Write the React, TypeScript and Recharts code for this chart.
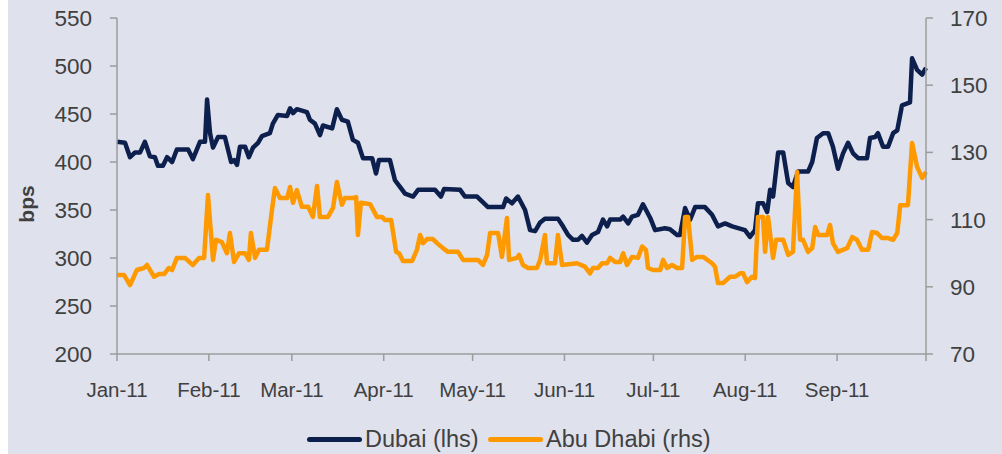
import { Label, Line, LineChart, XAxis, YAxis } from "recharts";

const NAVY = "#0d1f4c";
const ORANGE = "#ff9900";
const BG = "#dfe1ec";
const AXIS = "#9c9c9c";
const TEXT = "#404040";
const FONT = "'Liberation Sans', Arial, sans-serif";

// x = days since 1 Jan 2011
const monthTicks = [0, 31, 59, 90, 120, 151, 181, 212, 243, 273];
const monthLabels = ["Jan-11", "Feb-11", "Mar-11", "Apr-11", "May-11", "Jun-11", "Jul-11", "Aug-11", "Sep-11", ""];
const leftTicks = [200, 250, 300, 350, 400, 450, 500, 550];
const rightTicks = [70, 90, 110, 130, 150, 170];

const dubaiDays = [
  0, 2.7, 4.4, 6.1, 7.8, 9.4, 11.1, 12.8, 13.8, 15.5,
  16.9, 18.6, 20.2, 24.0, 25.6, 28.0, 29.7, 30.4, 31.4, 32.4,
  34.1, 36.4, 38.5, 39.5, 40.5, 41.5, 43.2, 44.5, 45.9, 47.6,
  48.9, 51.6, 52.6, 54.3, 57.4, 58.4, 59.4, 60.7, 64.1, 65.1,
  66.8, 68.5, 69.5, 72.6, 74.2, 75.9, 77.9, 79.6, 81.3, 83.0,
  86.1, 87.4, 88.4, 92.1, 93.8, 95.5, 97.2, 99.9, 101.6, 107.3,
  109.3, 110.4, 115.8, 117.4, 121.5, 125.2, 130.3, 131.3, 133.3, 135.3,
  137.7, 139.4, 141.1, 142.8, 144.4, 148.8, 150.5, 152.2, 153.9, 155.6,
  156.9, 158.6, 160.3, 162.3, 164.0, 165.4, 166.4, 169.8, 170.8, 172.5,
  173.8, 175.8, 177.5, 179.9, 181.6, 184.9, 186.6, 189.0, 190.0, 191.7,
  193.4, 195.1, 198.4, 200.8, 202.8, 205.2, 207.6, 211.9, 213.6, 215.3,
  216.3, 218.0, 219.4, 220.4, 221.4, 223.1, 224.8, 226.5, 228.1, 229.8,
  233.2, 234.6, 236.2, 238.3, 240.0, 241.6, 243.3, 245.0, 246.7, 248.4,
  250.1, 253.1, 254.1, 255.8, 256.8, 258.5, 260.2, 261.9, 263.3, 264.9,
  267.6, 268.3, 270.0, 271.7, 273.0,
];
const dubaiBps = [
  421, 420, 405, 410, 410, 421, 406, 405, 396, 396,
  405, 400, 413, 413, 403, 421, 421, 465, 430, 415,
  426, 426, 400, 402, 397, 416, 416, 405, 415, 420,
  427, 430, 440, 449, 448, 456, 451, 455, 452, 444,
  440, 428, 438, 435, 455, 444, 442, 423, 420, 404,
  404, 388, 402, 402, 381, 374, 367, 364, 371, 371,
  364, 372, 371, 364, 364, 353, 353, 362, 357, 364,
  350, 329, 328, 337, 341, 341, 333, 324, 319, 319,
  323, 316, 324, 327, 340, 333, 340, 340, 343, 336,
  343, 345, 356, 342, 329, 331, 330, 324, 324, 352,
  340, 353, 353, 345, 333, 336, 333, 329, 322, 329,
  357, 357, 348, 371, 364, 410, 410, 378, 374, 390,
  390, 400, 425, 430, 430, 416, 393, 409, 420, 409,
  404, 404, 425, 426, 430, 416, 416, 430, 433, 459,
  462, 508, 496, 491, 498,
];

const abuDhabiDays = [
  0, 2.4, 4.4, 6.7, 9.1, 10.1, 12.5, 14.2, 15.9, 17.5,
  18.6, 20.2, 22.9, 25.6, 27.7, 29.4, 30.7, 32.4, 33.4, 35.4,
  37.1, 38.1, 39.5, 41.2, 43.2, 44.5, 45.2, 46.6, 47.9, 50.6,
  52.3, 53.3, 55.0, 57.4, 58.4, 59.4, 60.7, 62.4, 64.5, 66.1,
  67.5, 68.5, 71.2, 72.9, 74.2, 75.9, 76.9, 79.6, 80.7, 81.3,
  82.3, 85.4, 87.7, 89.4, 90.4, 92.5, 94.2, 95.2, 96.5, 99.6,
  101.2, 102.3, 103.3, 104.6, 106.6, 108.0, 110.0, 111.7, 115.1, 116.8,
  121.8, 123.5, 124.9, 125.9, 128.6, 129.9, 131.6, 132.3, 135.0, 135.7,
  137.0, 138.7, 141.7, 142.8, 144.4, 145.1, 147.8, 148.8, 150.2, 155.2,
  157.9, 159.6, 160.6, 162.3, 163.7, 165.4, 166.4, 168.1, 169.8, 170.8,
  172.1, 173.8, 175.8, 177.2, 178.5, 179.2, 180.9, 183.3, 184.3, 185.6,
  187.3, 189.0, 190.7, 191.7, 192.7, 194.1, 195.7, 197.8, 200.8, 201.8,
  202.8, 204.5, 206.9, 208.6, 210.3, 211.3, 212.6, 214.3, 215.3, 216.3,
  218.0, 218.7, 219.7, 221.4, 222.4, 224.8, 226.5, 228.1, 229.5, 230.5,
  231.5, 233.2, 234.6, 235.6, 236.6, 239.6, 240.6, 241.6, 243.3, 246.4,
  248.1, 249.7, 251.4, 253.5, 254.8, 256.5, 258.2, 260.2, 261.9, 263.3,
  264.3, 266.9, 268.3, 270.0, 271.7, 273.0,
];
const abuDhabiBps = [
  93.5, 93.5, 90.5, 95, 95.6, 96.5, 93, 93.8, 93.8, 95.6,
  95, 98.6, 98.6, 96.5, 98.6, 98.6, 117.3, 98, 104, 103.3,
  100, 106, 97.4, 100, 100, 98, 106, 98.6, 101, 101,
  112.9, 119.4, 116.4, 116.4, 119.7, 115, 118.8, 113.8, 113.8, 110.8,
  120, 110.8, 110.8, 113.5, 121.2, 114.4, 116.4, 116.4, 116.7, 105.4,
  115, 114.6, 110.8, 110.8, 109.9, 109.9, 100.4, 100, 97.7, 97.7,
  101, 105.4, 103, 104.2, 104.2, 103, 101.5, 100.4, 100.4, 98,
  98, 96.5, 99.5, 106, 106, 98.9, 110.5, 98, 98.6, 99.5,
  96.5, 95.6, 95.6, 98, 105.4, 97, 97, 105.4, 96.5, 97,
  96, 94, 95.6, 95.6, 97, 97, 98.6, 97.4, 97.4, 100,
  96.5, 98.9, 98.6, 102, 101, 95.6, 95, 95, 98, 95.6,
  96.5, 95.6, 95.6, 110.8, 110.8, 98, 98.9, 98.9, 97, 96,
  91.1, 91.1, 93, 93, 94, 94, 91.4, 93, 92.6, 110.8,
  110.8, 100.4, 110.8, 98.6, 104, 104, 99.5, 100.4, 124.2, 104,
  104, 100.4, 101.5, 107.8, 105.4, 105.4, 108.4, 103, 100.4, 101.5,
  104.8, 104, 101, 101, 106.3, 106, 104.5, 104.5, 104, 106,
  114.3, 114.3, 132.8, 125.7, 122.4, 124.2,
];

const dubaiData = dubaiDays.map((day, i) => ({ day, value: dubaiBps[i] }));
const abuDhabiData = abuDhabiDays.map((day, i) => ({ day, value: abuDhabiBps[i] }));

const legendItems = [
  { name: "Dubai (lhs)", color: NAVY, left: 299 },
  { name: "Abu Dhabi (rhs)", color: ORANGE, left: 480 },
];

export default function App() {
  return (
    <div
      style={{
        position: "absolute",
        left: 8,
        top: 0,
        width: 994,
        height: 454,
        background: BG,
        fontFamily: FONT,
      }}
    >
      <LineChart width={994} height={454} margin={{ top: 18, right: 16, left: 29, bottom: 40 }}>
        <XAxis
          dataKey="day"
          type="number"
          domain={[0, 273]}
          ticks={monthTicks}
          tickFormatter={(v: number) => monthLabels[monthTicks.indexOf(v)] ?? ""}
          height={60}
          stroke={AXIS}
          strokeWidth={1.5}
          tickSize={7}
          tickMargin={21}
          tick={{ fill: TEXT, fontSize: 20.5, fontFamily: FONT }}
          interval={0}
        />
        <YAxis
          yAxisId="left"
          orientation="left"
          domain={[200, 550]}
          ticks={leftTicks}
          width={80}
          stroke={AXIS}
          strokeWidth={1.5}
          tickSize={7}
          tickMargin={18}
          tick={{ fill: TEXT, fontSize: 22.5, fontFamily: FONT }}
          interval={0}
        >
          <Label
            content={() => (
              <text
                transform="translate(26,204) rotate(-90)"
                textAnchor="middle"
                fill={TEXT}
                fontSize={21}
                fontWeight="bold"
                fontFamily={FONT}
              >
                bps
              </text>
            )}
          />
        </YAxis>
        <YAxis
          yAxisId="right"
          orientation="right"
          domain={[70, 170]}
          ticks={rightTicks}
          width={60}
          stroke={AXIS}
          strokeWidth={1.5}
          tickSize={7}
          tickMargin={17}
          tick={{ fill: TEXT, fontSize: 22.5, fontFamily: FONT }}
          interval={0}
        />
        <Line
          yAxisId="left"
          data={dubaiData}
          dataKey="value"
          name="Dubai (lhs)"
          type="linear"
          stroke={NAVY}
          strokeWidth={4.5}
          strokeLinejoin="round"
          dot={false}
          activeDot={false}
          isAnimationActive={false}
        />
        <Line
          yAxisId="right"
          data={abuDhabiData}
          dataKey="value"
          name="Abu Dhabi (rhs)"
          type="linear"
          stroke={ORANGE}
          strokeWidth={4.5}
          strokeLinejoin="round"
          dot={false}
          activeDot={false}
          isAnimationActive={false}
        />
      </LineChart>
      {legendItems.map((item) => (
        <div
          key={item.name}
          style={{
            position: "absolute",
            left: item.left,
            top: 428,
            display: "flex",
            alignItems: "center",
            height: 23,
            lineHeight: "23px",
            fontSize: 23.5,
            color: TEXT,
            whiteSpace: "nowrap",
          }}
        >
          <span
            style={{
              display: "inline-block",
              width: 55,
              height: 5,
              borderRadius: 3,
              background: item.color,
              marginRight: 3,
            }}
          />
          {item.name}
        </div>
      ))}
    </div>
  );
}
